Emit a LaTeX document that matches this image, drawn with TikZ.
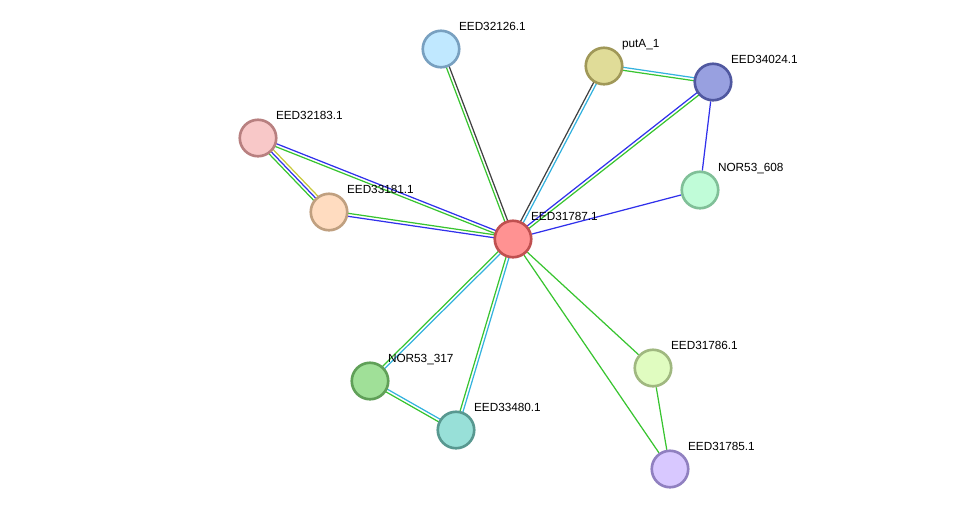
\documentclass[tikz,border=0pt]{standalone}
\usepackage{fontspec}
\setmainfont{Liberation Sans}
\usepackage{tikz}
\usetikzlibrary{calc,backgrounds}

\definecolor{lgreen}{RGB}{56,196,48}
\definecolor{lblue}{RGB}{48,48,235}
\definecolor{lcyan}{RGB}{52,178,222}
\definecolor{lgray}{RGB}{64,64,64}
\definecolor{lyellow}{RGB}{200,200,56}

% one strand of an interaction line, shifted sideways by #3
\newcommand{\ppiedge}[4]{\draw[ppi, #4] ($(#1)!#3!90:(#2)$) -- ($(#2)!#3!-90:(#1)$);}

\begin{document}
\begin{tikzpicture}[x=0.02cm, y=-0.02cm,
    prot/.style={circle, draw, line width=1.5pt, minimum size=0.73cm, inner sep=0pt},
    lbl/.style={font=\fontsize{6.7}{7.5}\selectfont, inner sep=0.5pt, text depth=0pt, label distance=2.4pt},
    ppi/.style={line width=0.7pt}]
        \useasboundingbox (0,0) rectangle (975,515);

        \node[prot, fill={rgb,255:red,255;green,146;blue,146}, draw={rgb,255:red,192;green,80;blue,80}, label={[lbl]45:EED31787.1}] (n31787) at (513,239) {};
        \node[prot, fill={rgb,255:red,192;green,232;blue,255}, draw={rgb,255:red,120;green,160;blue,192}, label={[lbl]45:EED32126.1}] (n32126) at (441,49) {};
        \node[prot, fill={rgb,255:red,224;green,220;blue,152}, draw={rgb,255:red,160;green,152;blue,88}, label={[lbl]45:putA\_1}] (putA) at (604,66) {};
        \node[prot, fill={rgb,255:red,152;green,160;blue,224}, draw={rgb,255:red,80;green,88;blue,160}, label={[lbl]45:EED34024.1}] (n34024) at (713,82) {};
        \node[prot, fill={rgb,255:red,192;green,252;blue,216}, draw={rgb,255:red,128;green,192;blue,152}, label={[lbl]45:NOR53\_608}] (nor608) at (700,190) {};
        \node[prot, fill={rgb,255:red,248;green,200;blue,200}, draw={rgb,255:red,184;green,128;blue,128}, label={[lbl]45:EED32183.1}] (n32183) at (258,138) {};
        \node[prot, fill={rgb,255:red,255;green,220;blue,192}, draw={rgb,255:red,192;green,160;blue,128}, label={[lbl]45:EED33181.1}] (n33181) at (329,212) {};
        \node[prot, fill={rgb,255:red,160;green,224;blue,152}, draw={rgb,255:red,96;green,160;blue,88}, label={[lbl]45:NOR53\_317}] (nor317) at (370,381) {};
        \node[prot, fill={rgb,255:red,152;green,224;blue,216}, draw={rgb,255:red,88;green,152;blue,144}, label={[lbl]45:EED33480.1}] (n33480) at (456,430) {};
        \node[prot, fill={rgb,255:red,224;green,252;blue,192}, draw={rgb,255:red,160;green,184;blue,128}, label={[lbl]45:EED31786.1}] (n31786) at (653,368) {};
        \node[prot, fill={rgb,255:red,216;green,200;blue,255}, draw={rgb,255:red,144;green,128;blue,192}, label={[lbl]45:EED31785.1}] (n31785) at (670,469) {};

        \begin{pgfonlayer}{background}
        % double and triple lines
        \ppiedge{n31787}{n32126}{0.85pt}{lgreen}
        \ppiedge{n31787}{n32126}{-0.85pt}{lgray}
        \ppiedge{n31787}{putA}{0.85pt}{lgray}
        \ppiedge{n31787}{putA}{-0.85pt}{lcyan}
        \ppiedge{n31787}{n34024}{0.85pt}{lblue}
        \ppiedge{n31787}{n34024}{-0.85pt}{lgreen}
        \ppiedge{n31787}{n32183}{0.85pt}{lgreen}
        \ppiedge{n31787}{n32183}{-0.85pt}{lblue}
        \ppiedge{n31787}{n33181}{0.85pt}{lblue}
        \ppiedge{n31787}{n33181}{-0.85pt}{lgreen}
        \ppiedge{n32183}{n33181}{1.7pt}{lyellow}
        \ppiedge{n32183}{n33181}{0pt}{lblue}
        \ppiedge{n32183}{n33181}{-1.7pt}{lgreen}
        \ppiedge{putA}{n34024}{0.85pt}{lcyan}
        \ppiedge{putA}{n34024}{-0.85pt}{lgreen}
        \ppiedge{n31787}{nor317}{0.85pt}{lcyan}
        \ppiedge{n31787}{nor317}{-0.85pt}{lgreen}
        \ppiedge{n31787}{n33480}{0.85pt}{lcyan}
        \ppiedge{n31787}{n33480}{-0.85pt}{lgreen}
        \ppiedge{nor317}{n33480}{0.85pt}{lcyan}
        \ppiedge{nor317}{n33480}{-0.85pt}{lgreen}

        % single lines
        \draw[ppi, lblue] (n31787) -- (nor608);
        \draw[ppi, lblue] (n34024) -- (nor608);
        \draw[ppi, lgreen] (n31787) -- (n31786);
        \draw[ppi, lgreen] (n31787) -- (n31785);
        \draw[ppi, lgreen] (n31786) -- (n31785);
        \end{pgfonlayer}
\end{tikzpicture}
\end{document}
